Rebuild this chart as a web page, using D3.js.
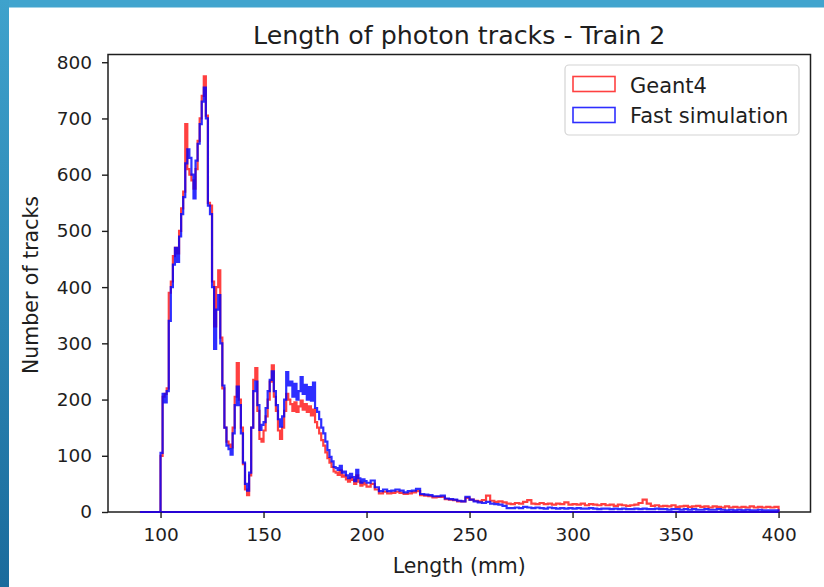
<!DOCTYPE html>
<html>
<head>
<meta charset="utf-8">
<script src="https://cdn.jsdelivr.net/npm/d3@7"></script>
<style>
  html, body { margin: 0; padding: 0; background: #ffffff; }
  svg { display: block; font-family: "DejaVu Sans", sans-serif; }
  .tick text { fill: #1e1e1e; }
</style>
</head>
<body>
<div id="chart"></div>
<script>
"use strict";

/*
 * ============================================================================
 * Data (histogram bin contents)
 * ============================================================================
 */

const TITLE = "Length of photon tracks - Train 2";
const X_LABEL = "Length (mm)";
const Y_LABEL = "Number of tracks";
const SERIES_NAMES = ["Geant4", "Fast simulation"];

const X_TICKS = [100, 150, 200, 250, 300, 350, 400];
const Y_TICKS = [0, 100, 200, 300, 400, 500, 600, 700, 800];

// 1 mm bins, 90 -> 200 mm
const CORE_START = 90;
const CORE_WIDTH = 1;

const geant4Core = [
    0, 0, 0, 0, 0, 0, 0, 0, 0, 0,
    100, 205, 210, 220, 390, 410, 455, 470, 460, 500,
    540, 570, 690, 610, 600, 590, 575, 610, 660, 700,
    740, 775, 705, 550, 545, 410, 330, 400, 430, 310,
    220, 150, 125, 120, 115, 150, 205, 265, 200, 150,
    85, 40, 30, 65, 150, 235, 256, 180, 130, 125,
    145, 170, 200, 232, 261, 205, 180, 145, 130, 150,
    180, 210, 200, 192, 180, 195, 178, 188, 198, 182,
    192, 178, 188, 172, 182, 160, 150, 140, 128, 118,
    106, 96, 88, 80, 72, 70, 66, 74, 63, 65,
    58, 54, 61, 57, 50, 65, 54, 47, 52, 49
];

const fastSimCore = [
    0, 0, 0, 0, 0, 0, 0, 0, 0, 0,
    105, 210, 195, 215, 340, 400, 440, 470, 445, 490,
    530, 560, 620, 645, 630, 600, 558, 625, 655, 690,
    730, 755, 700, 545, 530, 400, 290, 360, 386, 300,
    225, 150, 118, 112, 102, 140, 190, 223, 190, 140,
    88, 50, 38, 70, 150, 215, 232, 190, 146, 155,
    160, 185, 215, 235, 250, 215, 190, 165, 152, 170,
    200, 249, 225, 232, 205, 228, 200, 215, 240, 210,
    226, 200, 222, 198, 230, 185, 178, 165, 150, 140,
    125, 110, 98, 90, 80, 78, 75, 82, 70, 72,
    65, 60, 68, 62, 55, 75, 60, 52, 58, 55
];

// 2 mm bins, 200 -> 400 mm
const TAIL_START = 200;
const TAIL_WIDTH = 2;

const geant4Tail = [
    45, 50, 40, 33, 36, 33, 34, 36, 34, 32,
    33, 35, 37, 30, 29, 28, 26, 27, 27, 23,
    22, 21, 19, 19, 25, 22, 20, 19, 21, 29,
    20, 18, 19, 17, 15, 14, 16, 15, 18, 21,
    15, 14, 16, 14, 15, 13, 15, 14, 17, 13,
    14, 13, 15, 12, 14, 13, 12, 14, 12, 13,
    11, 13, 12, 11, 12, 13, 16, 22, 15, 11,
    12, 10, 11, 10, 12, 9, 10, 11, 9, 10,
    11, 9, 10, 8, 10, 9, 8, 10, 8, 9,
    8, 9, 8, 10, 8, 9, 8, 9, 8, 9
];

const fastSimTail = [
    52, 56, 44, 37, 40, 37, 38, 40, 38, 35,
    37, 38, 41, 32, 31, 30, 28, 28, 29, 24,
    23, 22, 20, 19, 27, 22, 19, 17, 16, 18,
    15, 14, 13, 11, 7, 7, 8, 7, 9, 8,
    7, 8, 7, 6, 8, 7, 6, 7, 6, 7,
    6, 7, 6, 6, 7, 6, 5, 6, 6, 5,
    6, 5, 6, 5, 5, 6, 5, 6, 5, 5,
    6, 5, 5, 4, 5, 5, 4, 5, 4, 5,
    4, 4, 5, 4, 4, 5, 4, 3, 4, 3,
    4, 3, 4, 3, 3, 4, 3, 3, 3, 3
];

const COLORS = ["#ff0000", "#0000ff"];


/*
 * ============================================================================
 * Helpers
 * ============================================================================
 */

function toBins(start, width, values) {
    return values.map((v, i) => ({ x0: start + i * width, x1: start + (i + 1) * width, v: v }));
}

function stepPoints(bins) {
    const pts = [[bins[0].x0, 0]];
    bins.forEach(b => {
        pts.push([b.x0, b.v]);
        pts.push([b.x1, b.v]);
    });
    pts.push([bins[bins.length - 1].x1, 0]);
    return pts;
}


/*
 * ============================================================================
 * Plot
 * ============================================================================
 */

const W = 824;
const H = 587;
const LEFT = 108, RIGHT = 810.5, TOP = 54.5, BOTTOM = 512;
const INK = "#1e1e1e";

const svg = d3.select("#chart")
  .append("svg")
    .attr("width", W)
    .attr("height", H);

// slide background
const defs = svg.append("defs");
const grad = defs.append("linearGradient")
    .attr("id", "edge")
    .attr("x1", 0).attr("y1", 0).attr("x2", 0).attr("y2", 1);
grad.append("stop").attr("offset", "0%").attr("stop-color", "#3fa2cc");
grad.append("stop").attr("offset", "100%").attr("stop-color", "#1a6b9c");

svg.append("rect").attr("width", W).attr("height", H).attr("fill", "#ffffff");
svg.append("rect").attr("width", W).attr("height", 7.5).attr("fill", "#41a4ce");
svg.append("rect").attr("width", 9).attr("height", H).attr("fill", "url(#edge)");

const x = d3.scaleLinear()
    .domain([74.5, 415.5])
    .range([LEFT, RIGHT]);

const y = d3.scaleLinear()
    .domain([0, 813.75])
    .range([BOTTOM, TOP]);

const line = d3.line()
    .x(d => x(d[0]))
    .y(d => y(d[1]));

// frame
svg.append("rect")
    .attr("x", LEFT)
    .attr("y", TOP)
    .attr("width", RIGHT - LEFT)
    .attr("height", BOTTOM - TOP)
    .attr("fill", "none")
    .attr("stroke", INK)
    .attr("stroke-width", 1.5);

const series = [
    toBins(CORE_START, CORE_WIDTH, geant4Core).concat(toBins(TAIL_START, TAIL_WIDTH, geant4Tail)),
    toBins(CORE_START, CORE_WIDTH, fastSimCore).concat(toBins(TAIL_START, TAIL_WIDTH, fastSimTail))
];

const OPACITY = [0.75, 0.82];

series.forEach((bins, i) => {
    svg.append("path")
        .attr("d", line(stepPoints(bins)) + "Z")
        .attr("fill", "none")
        .attr("stroke", COLORS[i])
        .attr("stroke-opacity", OPACITY[i])
        .attr("stroke-width", 2.2)
        .attr("stroke-linejoin", "miter");
});

// axes
const xaxis = svg.append("g")
    .attr("transform", `translate(0,${BOTTOM})`)
    .call(d3.axisBottom(x).tickValues(X_TICKS).tickSizeInner(6).tickSizeOuter(0).tickPadding(10));

const yaxis = svg.append("g")
    .attr("transform", `translate(${LEFT},0)`)
    .call(d3.axisLeft(y).tickValues(Y_TICKS).tickSizeInner(6).tickSizeOuter(0).tickPadding(10));

[xaxis, yaxis].forEach(ax => {
    ax.select(".domain").remove();
    ax.selectAll(".tick line").attr("stroke", INK).attr("stroke-width", 1.4);
    ax.selectAll(".tick text")
        .attr("font-family", "DejaVu Sans")
        .attr("font-size", 18.5);
});

// texts
svg.append("text")
    .attr("x", (LEFT + RIGHT) / 2)
    .attr("y", 44)
    .attr("text-anchor", "middle")
    .attr("font-size", 25.3)
    .attr("fill", INK)
    .text(TITLE);

svg.append("text")
    .attr("x", (LEFT + RIGHT) / 2)
    .attr("y", 573)
    .attr("text-anchor", "middle")
    .attr("font-size", 20.5)
    .attr("fill", INK)
    .text(X_LABEL);

svg.append("text")
    .attr("transform", "translate(38,285) rotate(-90)")
    .attr("text-anchor", "middle")
    .attr("font-size", 20.5)
    .attr("fill", INK)
    .text(Y_LABEL);

// legend
const legend = svg.append("g");
legend.append("rect")
    .attr("x", 565)
    .attr("y", 65)
    .attr("width", 234)
    .attr("height", 70)
    .attr("rx", 4)
    .attr("fill", "#ffffff")
    .attr("fill-opacity", 0.8)
    .attr("stroke", "#d4d4d4")
    .attr("stroke-width", 1.2);

SERIES_NAMES.forEach((name, i) => {
    legend.append("rect")
        .attr("x", 573)
        .attr("y", 76.5 + i * 31)
        .attr("width", 42)
        .attr("height", 15)
        .attr("fill", "none")
        .attr("stroke", COLORS[i])
        .attr("stroke-opacity", OPACITY[i])
        .attr("stroke-width", 1.6);
    legend.append("text")
        .attr("x", 630)
        .attr("y", 92.5 + i * 30.5)
        .attr("font-size", 21)
        .attr("fill", INK)
        .text(name);
});
</script>
</body>
</html>
